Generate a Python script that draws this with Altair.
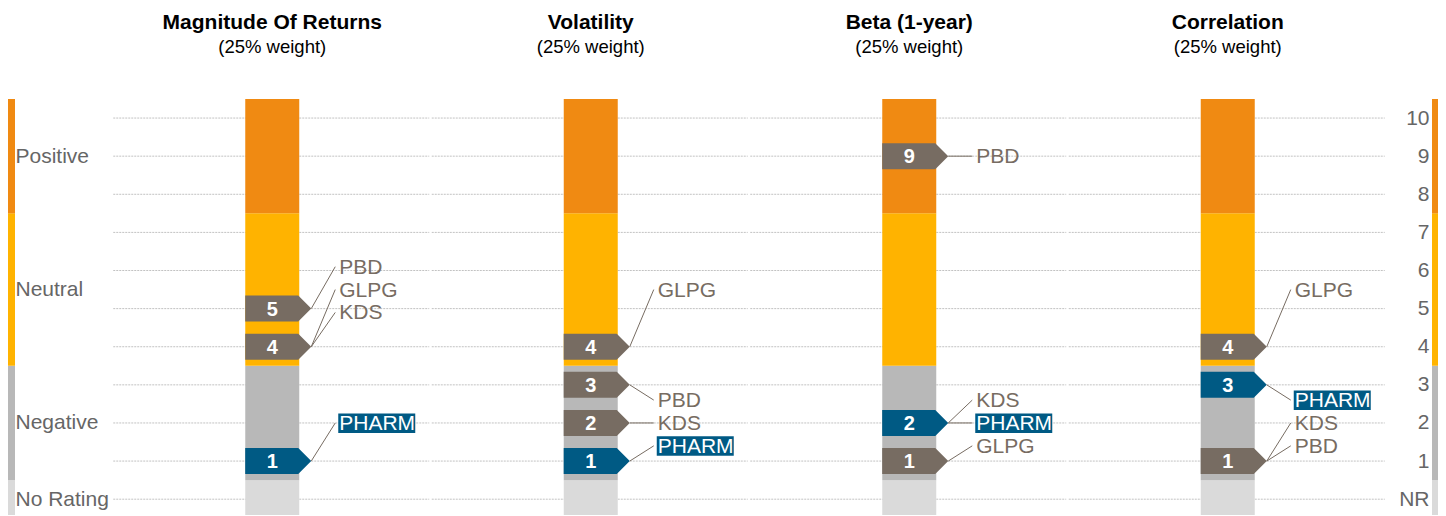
import altair as alt
import pandas as pd

# ---------------- data ----------------
criteria = ["Magnitude Of Returns", "Volatility", "Beta (1-year)", "Correlation"]
weights = ["(25% weight)", "(25% weight)", "(25% weight)", "(25% weight)"]
companies = ["PHARM", "GLPG", "KDS", "PBD"]
highlight = "PHARM"

# rating of each company (in `companies` order) per criterion
ratings_mor = [1, 4, 4, 5]
ratings_vol = [1, 4, 2, 3]
ratings_beta = [2, 1, 2, 9]
ratings_corr = [3, 4, 1, 1]

# vertical position of each company's callout label (rating units)
labels_mor = [2.0, 5.5, 4.9, 6.1]
labels_vol = [1.4, 5.5, 2.0, 2.6]
labels_beta = [2.0, 1.4, 2.6, 9.0]
labels_corr = [2.6, 5.5, 2.0, 1.4]

band_names = ["No Rating", "Negative", "Neutral", "Positive"]
band_lo = [-0.5, 0.5, 3.5, 7.5]
band_hi = [0.5, 3.5, 7.5, 10.5]
band_label_at = [0, 2, 5.5, 9]
levels = list(range(0, 11))
level_labels = ["NR"] + [str(i) for i in range(1, 11)]

# ---------------- styles ----------------
FONT = "Liberation Sans"
band_colors = ["#DADADA", "#B8B8B8", "#FFB300", "#F08A12"]
TAUPE = "#776C62"
BLUE = "#005A84"
W, H = 1274, 404

# ---------------- tables ----------------
all_ratings = [ratings_mor, ratings_vol, ratings_beta, ratings_corr]
all_labels = [labels_mor, labels_vol, labels_beta, labels_corr]

comp_rows = []
for c, rs, ls in zip(criteria, all_ratings, all_labels):
    for name, r, l in zip(companies, rs, ls):
        comp_rows.append({"crit": c, "company": name, "rating": r, "label_pos": l,
                          "kind": "highlight" if name == highlight else "other"})
comp_df = pd.DataFrame(comp_rows)

badge_df = (comp_df.assign(h=comp_df["kind"].eq("highlight"))
            .groupby(["crit", "rating"], as_index=False)["h"].max())
badge_df["kind"] = badge_df["h"].map({True: "highlight", False: "other"})
badge_df = badge_df.drop(columns="h")

band_df = pd.DataFrame({"band": band_names, "lo": band_lo, "hi": band_hi})
bars_df = pd.DataFrame([{"crit": c, **b} for c in criteria
                        for b in band_df.to_dict("records")])
grid_df = pd.DataFrame([{"crit": c, "level": v} for c in criteria for v in levels])
title_df = pd.DataFrame({"crit": criteria, "weight": weights})

# ---------------- encodings ----------------
yscale = alt.Scale(domain=[-0.1, 10.5], nice=False, zero=False)
X = alt.X("crit:N", scale=alt.Scale(type="point", domain=criteria, padding=0.5),
          sort=criteria, axis=None)


def Y(field, axis=None):
    return alt.Y(field, type="quantitative", scale=yscale, axis=axis)


def expr_map(values, labels):
    e = "''"
    for v, l in zip(values, labels):
        e = f"datum.value == {v} ? '{l}' : ({e})"
    return e


left_axis = alt.Axis(orient="left", values=band_label_at,
                     labelExpr=expr_map(band_label_at, band_names),
                     ticks=False, tickSize=0, domain=False, grid=False,
                     labelAlign="left", labelBaseline="middle", labelPadding=98,
                     labelFontSize=21, labelColor="#666666", labelFont=FONT,
                     labelOverlap=False, labelFlush=False, title=None)
right_axis = alt.Axis(orient="right", values=levels,
                      labelExpr=expr_map(levels, level_labels),
                      ticks=False, tickSize=0, domain=False, grid=False,
                      labelAlign="right", labelBaseline="middle", labelPadding=42,
                      labelFontSize=21, labelColor="#666666", labelFont=FONT,
                      labelOverlap=False, labelFlush=False, title=None)

band_color = alt.Color("band:N", scale=alt.Scale(domain=band_names, range=band_colors),
                       legend=None)

grid = alt.Chart(grid_df).mark_rule(
    color="#C2C2C2", strokeWidth=1, strokeDash=[2, 1], xOffset=-159, x2Offset=157
).encode(x=X, x2="crit:N", y=Y("level", left_axis))

bars = alt.Chart(bars_df).mark_bar(width=54).encode(
    x=X, y=Y("lo", right_axis), y2="hi", color=band_color)

left_strip = alt.Chart(band_df).mark_rect().encode(
    x=alt.value(-105), x2=alt.value(-98), y=Y("lo"), y2="hi", color=band_color)
right_strip = alt.Chart(band_df).mark_rect().encode(
    x=alt.value(W + 45), x2=alt.value(W + 51), y=Y("lo"), y2="hi", color=band_color)

BADGE = "M-2.08,-1L2,-1L3,0L2,1L-2.08,1Z"
badges = alt.Chart(badge_df).mark_point(
    shape=BADGE, size=676, filled=True, opacity=1, strokeWidth=0
).encode(x=X, y=Y("rating"),
         color=alt.Color("kind:N", scale=alt.Scale(domain=["highlight", "other"],
                                                   range=[BLUE, TAUPE]), legend=None))

numbers = alt.Chart(badge_df).mark_text(
    color="white", fontWeight="bold", fontSize=20, font=FONT, baseline="middle", dy=1
).encode(x=X, y=Y("rating"), text="rating:Q")

leaders = alt.Chart(comp_df).mark_rule(
    color=TAUPE, strokeWidth=1, xOffset=39, x2Offset=63
).encode(x=X, x2="crit:N", y=Y("rating"), y2="label_pos")

LABEL_BOX = "M6.6,-0.95L14.3,-0.95L14.3,1.0L6.6,1.0Z"
label_bg = alt.Chart(comp_df).transform_filter(
    alt.datum.kind == "highlight"
).mark_point(shape=LABEL_BOX, size=400, filled=True, opacity=1, strokeWidth=0,
             color=BLUE).encode(x=X, y=Y("label_pos"))

labels = alt.Chart(comp_df).mark_text(
    align="left", baseline="middle", dx=67, dy=1, fontSize=21, font=FONT
).encode(x=X, y=Y("label_pos"), text="company:N",
         color=alt.Color("kind:N", scale=alt.Scale(domain=["highlight", "other"],
                                                   range=["#FFFFFF", TAUPE]), legend=None))

titles = alt.Chart(title_df).mark_text(
    fontWeight="bold", fontSize=21, font=FONT, color="#000000", baseline="alphabetic"
).encode(x=X, y=alt.value(-70), text="crit:N")
subtitles = alt.Chart(title_df).mark_text(
    fontSize=18.5, font=FONT, color="#000000", baseline="alphabetic"
).encode(x=X, y=alt.value(-46), text="weight:N")

chart = alt.layer(
    grid, bars, left_strip, right_strip, badges, numbers, leaders, label_bg, labels,
    titles, subtitles
).resolve_scale(y="independent", color="independent").properties(
    width=W, height=H,
    autosize=alt.AutoSizeParams(type="none"),
    padding={"left": 105, "top": 91, "right": 51, "bottom": 12},
).configure_view(stroke=None)

chart.save("out.html", embed_options={"renderer": "svg", "actions": False})
